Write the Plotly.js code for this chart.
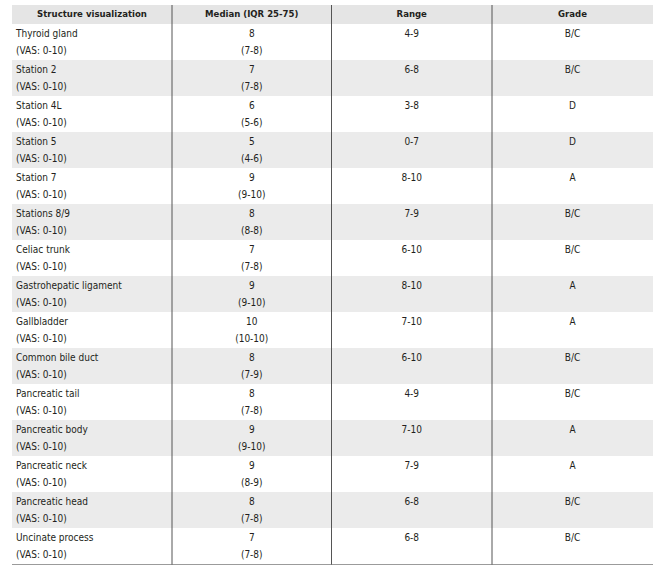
<!DOCTYPE html>
<html>
<head>
<meta charset="utf-8">
<script src="https://cdn.plot.ly/plotly-3.0.1.min.js"></script>
<style>html,body{margin:0;padding:0;background:#fff;}#chart{width:661px;height:569px;}</style>
</head>
<body>
<div id="chart"></div>
<script>
var headers = ["Structure visualization", "Median (IQR 25-75)", "Range", "Grade"];
var structures = ["Thyroid gland", "Station 2", "Station 4L", "Station 5", "Station 7", "Stations 8/9", "Celiac trunk", "Gastrohepatic ligament", "Gallbladder", "Common bile duct", "Pancreatic tail", "Pancreatic body", "Pancreatic neck", "Pancreatic head", "Uncinate process"];
var scaleLabel = "(VAS: 0-10)";
var medians = ["8", "7", "6", "5", "9", "8", "7", "9", "10", "8", "8", "9", "9", "8", "7"];
var iqrs = ["7-8", "7-8", "5-6", "4-6", "9-10", "8-8", "7-8", "9-10", "10-10", "7-9", "7-8", "9-10", "8-9", "7-8", "7-8"];
var ranges = ["4-9", "6-8", "3-8", "0-7", "8-10", "7-9", "6-10", "8-10", "7-10", "6-10", "4-9", "7-10", "7-9", "6-8", "6-8"];
var grades = ["B/C", "B/C", "D", "D", "A", "B/C", "B/C", "A", "A", "B/C", "B/C", "A", "A", "B/C", "B/C"];

// ---- geometry (layout only) ----
var W = 661, H = 569;
var mL = 12, mR = 8, mT = 5, mB = 4;
var TW = W - mL - mR;       // table width  (641)
var TH = H - mT - mB;       // table height (560)
var headerH = 19, rowH = 36;
var colEdges = [0, 160, 319.5, 480, TW];
var line1Off = 10, line2Off = 27.5;

var n = structures.length;
function rowTop(i){ return headerH + rowH * i; }
function colCenter(c){ return (colEdges[c] + colEdges[c + 1]) / 2; }

var y1 = structures.map(function(_, i){ return rowTop(i) + line1Off; });
var y2 = structures.map(function(_, i){ return rowTop(i) + line2Off; });
function fill(v){ return structures.map(function(){ return v; }); }

var fontFam = "'DejaVu Sans Condensed', 'DejaVu Sans', sans-serif";
var txtColor = "#231f20";
var bodyFont = {family: fontFam, size: 10, color: txtColor};

function textTrace(x, y, text, pos, font){
  return {type: "scatter", mode: "text", x: x, y: y, text: text, textposition: pos,
          textfont: font, hoverinfo: "skip", cliponaxis: false, showlegend: false};
}

var traces = [
  textTrace(headers.map(function(_, c){ return colCenter(c); }), headers.map(function(){ return headerH / 2 + 0.5; }),
            headers.map(function(h){ return "<b>" + h + "</b>"; }), "middle center",
            {family: fontFam, size: 9.5, color: txtColor}),
  textTrace(fill(4), y1, structures, "middle right", bodyFont),
  textTrace(fill(4), y2, fill(scaleLabel), "middle right", bodyFont),
  textTrace(fill(colCenter(1)), y1, medians, "middle center", bodyFont),
  textTrace(fill(colCenter(1)), y2, iqrs.map(function(q){ return "(" + q + ")"; }), "middle center", bodyFont),
  textTrace(fill(colCenter(2)), y1, ranges, "middle center", bodyFont),
  textTrace(fill(colCenter(3)), y1, grades, "middle center", bodyFont)
];

var shapes = [];
// header background
shapes.push({type: "rect", xref: "x", yref: "y", x0: 0, x1: TW, y0: 0, y1: headerH, fillcolor: "#e5e5e5", line: {width: 0}, layer: "below"});
// alternating row shading
structures.forEach(function(_, i){
  if (i % 2 === 1) {
    shapes.push({type: "rect", xref: "x", yref: "y", x0: 0, x1: TW, y0: rowTop(i), y1: rowTop(i) + rowH, fillcolor: "#ebebeb", line: {width: 0}, layer: "below"});
  }
});
// vertical separators
[1, 2, 3].forEach(function(c){
  shapes.push({type: "line", xref: "x", yref: "y", x0: colEdges[c], x1: colEdges[c], y0: 0, y1: TH, line: {color: "#555555", width: 1}});
});
// bottom rule
shapes.push({type: "line", xref: "x", yref: "y", x0: 0, x1: TW, y0: TH, y1: TH, line: {color: "#7a7a7a", width: 1.5}});

var axisBase = {showgrid: false, zeroline: false, showline: false, showticklabels: false, ticks: "", fixedrange: true};
var layout = {
  width: W, height: H,
  margin: {l: mL, r: mR, t: mT, b: mB, pad: 0},
  paper_bgcolor: "#ffffff",
  plot_bgcolor: "#ffffff",
  xaxis: Object.assign({range: [0, TW]}, axisBase),
  yaxis: Object.assign({range: [TH, 0]}, axisBase),
  shapes: shapes,
  showlegend: false
};

Plotly.newPlot("chart", traces, layout, {displayModeBar: false, staticPlot: true});
</script>
</body>
</html>
